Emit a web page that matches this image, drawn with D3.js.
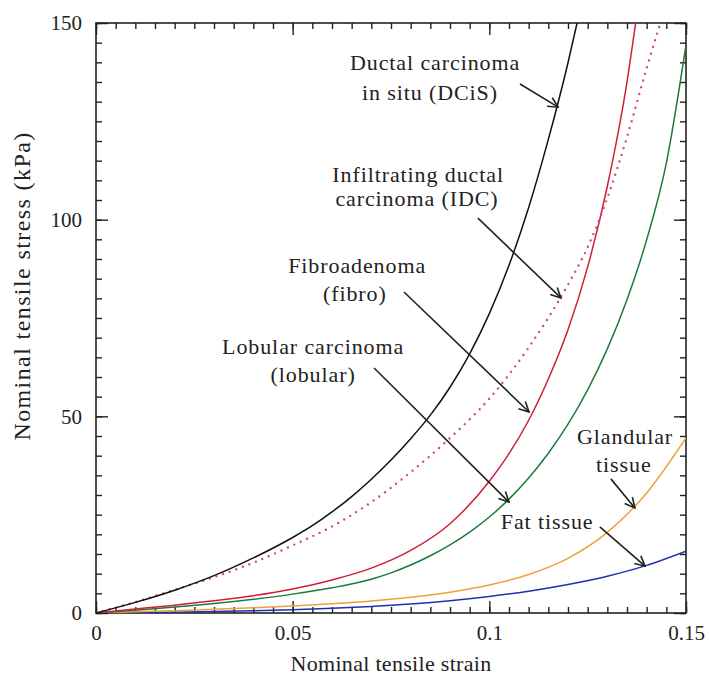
<!DOCTYPE html>
<html>
<head>
<meta charset="utf-8">
<script src="https://cdn.jsdelivr.net/npm/d3@7"></script>
<style>
  body { margin: 0; background: #fff; }
  text { font-family: "Liberation Serif", "Times New Roman", serif; fill: #222; }
</style>
</head>
<body>
<div id="chart-area"></div>
<script>
// strain (x) and stress in kPa (y)
var strainDCIS = [0, 0.01, 0.02, 0.03, 0.04, 0.05, 0.055, 0.06, 0.065, 0.07, 0.075, 0.08, 0.085, 0.09, 0.095, 0.10, 0.105, 0.11, 0.115, 0.12, 0.1223];
var stressDCIS = [0, 2.7, 5.8, 9.5, 14.0, 19.2, 22.2, 25.7, 29.6, 34.0, 38.9, 44.3, 50.3, 57.4, 65.9, 76.1, 88.4, 103.1, 120.4, 139.9, 150];

var strainIDC = [0, 0.01, 0.02, 0.03, 0.04, 0.05, 0.06, 0.07, 0.08, 0.09, 0.10, 0.11, 0.12, 0.125, 0.13, 0.135, 0.14, 0.1435];
var stressIDC = [0, 2.8, 5.9, 9.1, 12.8, 17.2, 22.0, 28.2, 35.8, 44.5, 54.5, 67.5, 83.5, 93, 105.5, 121, 138.5, 150];

var strainFibro = [0, 0.01, 0.02, 0.03, 0.04, 0.05, 0.06, 0.07, 0.08, 0.09, 0.10, 0.105, 0.11, 0.115, 0.12, 0.125, 0.13, 0.135, 0.1372];
var stressFibro = [0, 1.0, 2.0, 3.1, 4.4, 6.1, 8.4, 11.4, 15.9, 22.7, 33.5, 40.5, 49, 59.5, 72, 88, 108.5, 135, 150];

var strainLobular = [0, 0.01, 0.02, 0.03, 0.04, 0.05, 0.06, 0.07, 0.075, 0.08, 0.085, 0.09, 0.095, 0.10, 0.105, 0.11, 0.115, 0.12, 0.125, 0.13, 0.135, 0.14, 0.145, 0.15];
var stressLobular = [0, 0.7, 1.5, 2.4, 3.5, 4.8, 6.4, 8.6, 10.2, 12.2, 14.55, 17.3, 20.55, 24.4, 28.95, 34.3, 40.6, 48.0, 56.75, 67.15, 79.65, 94.9, 114.4, 144.4];

var strainGland = [0, 0.01, 0.02, 0.03, 0.04, 0.05, 0.06, 0.07, 0.08, 0.09, 0.10, 0.11, 0.12, 0.13, 0.14, 0.15];
var stressGland = [0, 0.3, 0.6, 0.95, 1.35, 1.8, 2.35, 3.05, 4.0, 5.3, 7.1, 9.8, 13.9, 20.5, 30.5, 44.5];

var strainFat = [0, 0.01, 0.02, 0.03, 0.04, 0.05, 0.06, 0.07, 0.08, 0.09, 0.10, 0.11, 0.12, 0.13, 0.14, 0.15];
var stressFat = [0, 0.1, 0.22, 0.38, 0.58, 0.84, 1.18, 1.65, 2.28, 3.12, 4.2, 5.55, 7.25, 9.35, 12.1, 15.7];

var xTicks = [0, 0.05, 0.1, 0.15];
var yTicks = [0, 50, 100, 150];

// annotation text lines, anchored at (strain, stress)
var labelLines = [
  ["Ductal carcinoma", 0.0862, 140.0], ["in situ (DCiS)", 0.0849, 132.4],
  ["Infiltrating ductal", 0.0819, 111.6], ["carcinoma (IDC)", 0.0816, 105.4],
  ["Fibroadenoma", 0.0664, 88.4], ["(fibro)", 0.0658, 81.2],
  ["Lobular carcinoma", 0.0552, 67.8], ["(lobular)", 0.0552, 60.6],
  ["Glandular", 0.1345, 45.0], ["tissue", 0.1342, 37.9],
  ["Fat tissue", 0.1147, 23.2]
];
// arrows: start (strain, stress) -> end (strain, stress)
var arrows = [
  [0.1078, 134.5, 0.1175, 128.6],
  [0.0971, 100.4, 0.1182, 80.1],
  [0.0783, 81.6, 0.1101, 51.1],
  [0.0707, 62.3, 0.1050, 28.2],
  [0.1309, 34.1, 0.1370, 26.7],
  [0.1281, 21.9, 0.1396, 11.9]
];

var margin = {top: 23, left: 96, bottom: 66, right: 23};
var width = 709 - margin.left - margin.right;
var height = 679 - margin.top - margin.bottom;

var svg = d3.select("#chart-area").append("svg")
  .attr("width", 709)
  .attr("height", 679);

var defs = svg.append("defs");
defs.append("clipPath").attr("id", "clip")
  .append("rect").attr("width", width).attr("height", height);
defs.append("marker")
  .attr("id", "arrowhead")
  .attr("viewBox", "0 0 12 12")
  .attr("refX", 11).attr("refY", 6)
  .attr("markerWidth", 12).attr("markerHeight", 12)
  .attr("markerUnits", "userSpaceOnUse")
  .attr("orient", "auto")
  .append("path")
    .attr("d", "M1,1 L11,6 L1,11")
    .attr("fill", "none")
    .attr("stroke", "#222")
    .attr("stroke-width", 1.6);

var g = svg.append("g")
  .attr("transform", "translate(" + margin.left + "," + margin.top + ")");

var x = d3.scaleLinear().domain([0, 0.15]).range([0, width]);
var y = d3.scaleLinear().domain([0, 150]).range([height, 0]);

// minor ticks every 0.005 / 5 kPa
var xMinor = d3.range(0, 0.1501, 0.005);
var yMinor = d3.range(0, 150.1, 5);

function tickAxis(axis, cls, transform) {
  var a = g.append("g").attr("class", cls).attr("transform", transform).call(axis);
  a.select(".domain").remove();
  a.selectAll("line").attr("stroke", "#222").attr("stroke-width", 1.4);
  return a;
}

tickAxis(d3.axisBottom(x).tickValues(xMinor).tickSize(-6).tickFormat(""), "x minor", "translate(0," + height + ")");
tickAxis(d3.axisTop(x).tickValues(xMinor).tickSize(-6).tickFormat(""), "x minor", "translate(0,0)");
tickAxis(d3.axisLeft(y).tickValues(yMinor).tickSize(-6).tickFormat(""), "y minor", "translate(0,0)");
tickAxis(d3.axisRight(y).tickValues(yMinor).tickSize(-6).tickFormat(""), "y minor", "translate(" + width + ",0)");

tickAxis(d3.axisBottom(x).tickValues(xTicks).tickSize(-12).tickPadding(12)
  .tickFormat(function(d){ return d === 0 ? "0" : d3.format("")(d); }), "x axis", "translate(0," + height + ")");
tickAxis(d3.axisTop(x).tickValues(xTicks).tickSize(-12).tickFormat(""), "x axis", "translate(0,0)");
tickAxis(d3.axisLeft(y).tickValues(yTicks).tickSize(-12).tickPadding(14), "y axis", "translate(0,0)");
tickAxis(d3.axisRight(y).tickValues(yTicks).tickSize(-12).tickFormat(""), "y axis", "translate(" + width + ",0)");

g.selectAll(".axis text")
  .attr("font-size", "21px")
  .style("font-family", "'Liberation Serif', 'Times New Roman', serif")
  .attr("fill", "#222");

// frame
g.append("rect")
  .attr("width", width).attr("height", height)
  .attr("fill", "none").attr("stroke", "#222").attr("stroke-width", 1.6);

// curves
var series = [
  {xs: strainFat, ys: stressFat, color: "#1f2fb0", dash: null},
  {xs: strainGland, ys: stressGland, color: "#eda03a", dash: null},
  {xs: strainLobular, ys: stressLobular, color: "#1e7a3c", dash: null},
  {xs: strainFibro, ys: stressFibro, color: "#d21e34", dash: null},
  {xs: strainIDC, ys: stressIDC, color: "#cc4c80", dash: "0 7"},
  {xs: strainDCIS, ys: stressDCIS, color: "#111", dash: null}
];

var line = d3.line()
  .x(function(d){ return x(d[0]); })
  .y(function(d){ return y(d[1]); })
  .curve(d3.curveMonotoneX);

var curves = g.append("g").attr("clip-path", "url(#clip)");
series.forEach(function(s){
  var pts = s.xs.map(function(v, i){ return [v, s.ys[i]]; });
  curves.append("path")
    .datum(pts)
    .attr("d", line)
    .attr("fill", "none")
    .attr("stroke", s.color)
    .attr("stroke-width", s.dash ? 2.4 : 1.5)
    .attr("stroke-linecap", s.dash ? "round" : "butt")
    .attr("stroke-dasharray", s.dash);
});

// annotations
g.selectAll(".ann")
  .data(labelLines)
  .enter().append("text")
    .attr("class", "ann")
    .attr("x", function(d){ return x(d[1]); })
    .attr("y", function(d){ return y(d[2]); })
    .attr("dy", "0.35em")
    .attr("text-anchor", "middle")
    .attr("font-size", "22px")
    .attr("letter-spacing", "0.9px")
    .text(function(d){ return d[0]; });

g.selectAll(".arrow")
  .data(arrows)
  .enter().append("line")
    .attr("class", "arrow")
    .attr("x1", function(d){ return x(d[0]); })
    .attr("y1", function(d){ return y(d[1]); })
    .attr("x2", function(d){ return x(d[2]); })
    .attr("y2", function(d){ return y(d[3]); })
    .attr("stroke", "#222")
    .attr("stroke-width", 1.6)
    .attr("marker-end", "url(#arrowhead)");

// axis titles
g.append("text")
  .attr("x", width / 2)
  .attr("y", height + 50)
  .attr("dy", "0.35em")
  .attr("text-anchor", "middle")
  .attr("font-size", "22px")
  .attr("letter-spacing", "0.3px")
  .text("Nominal tensile strain");

g.append("text")
  .attr("transform", "rotate(-90)")
  .attr("x", -(286 - margin.top))
  .attr("y", -74)
  .attr("dy", "0.35em")
  .attr("text-anchor", "middle")
  .attr("font-size", "24px")
  .attr("letter-spacing", "1.4px")
  .text("Nominal tensile stress (kPa)");
</script>
</body>
</html>
